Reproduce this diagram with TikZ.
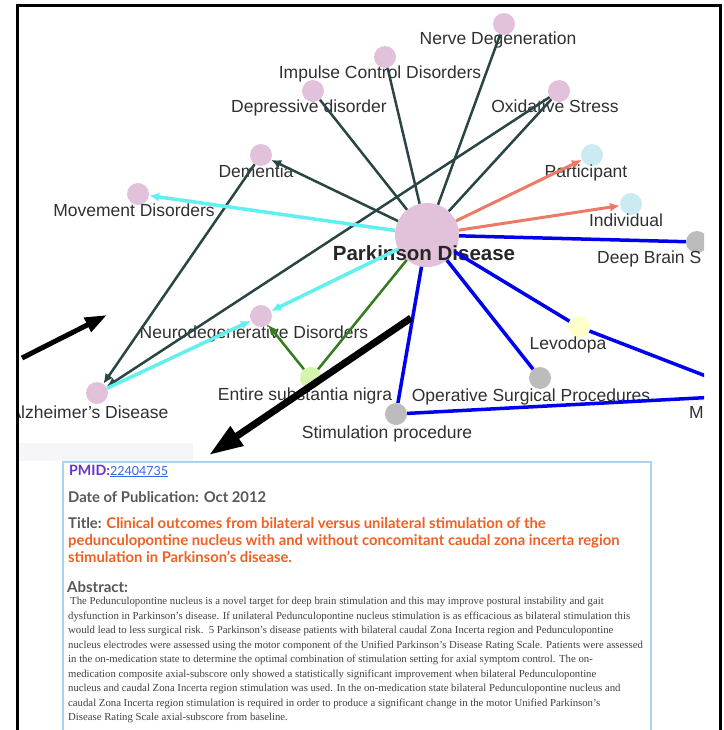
\documentclass[tikz,border=0pt]{standalone}
\usepackage{fontspec}
\setmainfont{Liberation Serif}
\setsansfont{Liberation Sans}
\newfontfamily\headfont{Lato}
\usepackage{xcolor}
\usepackage{tikz}
\usetikzlibrary{arrows.meta,positioning,calc}

\definecolor{nodepink}{RGB}{226,194,218}
\definecolor{nodeblue}{RGB}{204,234,242}
\definecolor{nodegray}{RGB}{188,188,188}
\definecolor{nodeyellow}{RGB}{255,255,204}
\definecolor{nodegreen}{RGB}{214,244,172}
\definecolor{edgedark}{RGB}{42,70,68}
\definecolor{edgecyan}{RGB}{96,240,240}
\definecolor{edgesalmon}{RGB}{236,122,102}
\definecolor{edgegreen}{RGB}{52,124,30}
\definecolor{edgeblue}{RGB}{0,0,236}
\definecolor{labelgray}{RGB}{48,48,48}
\definecolor{pmidpurple}{RGB}{104,52,204}
\definecolor{linkblue}{RGB}{52,104,222}
\definecolor{headgray}{RGB}{88,88,88}
\definecolor{titleorange}{RGB}{240,96,36}
\definecolor{abstractgray}{RGB}{66,66,66}
\definecolor{boxblue}{RGB}{172,210,240}
\definecolor{stripgray}{RGB}{246,246,250}

\begin{document}
\begin{tikzpicture}[
x=1pt,y=-1pt,
concept/.style={circle,minimum size=22pt,inner sep=0pt,fill=nodepink},
disease/.style={concept,minimum size=64pt},
lbl/.style={anchor=base,inner sep=0pt,text=labelgray,font=\sffamily\fontsize{17.5}{20}\selectfont},
dark/.style={draw=edgedark,line width=2.5pt},
cyanline/.style={draw=edgecyan,line width=3.5pt},
salmon/.style={draw=edgesalmon,line width=3pt},
greenline/.style={draw=edgegreen,line width=2.5pt},
blueline/.style={draw=edgeblue,line width=3.5pt},
tip/.style={-{Latex[length=10pt,width=9pt]}},
bigarrow/.style={-{Triangle[length=22pt,width=15pt]},line width=5pt},
head/.style={anchor=base west,inner sep=0pt,font=\headfont\bfseries\fontsize{14.8}{17}\selectfont},
]
\useasboundingbox (0,0) rectangle (723,730);
\fill[stripgray] (19,443) rectangle (193,461);
\begin{scope}
\clip (19,7) rectangle (704,461);
\node[disease] (pd) at (427,235) {};
\node[concept] (nerve) at (504,24) {};
\node[concept] (impulse) at (385,57) {};
\node[concept] (depress) at (313,91) {};
\node[concept] (oxid) at (559,91) {};
\node[concept] (dementia) at (261,155) {};
\node[concept,fill=nodeblue] (particip) at (592,155) {};
\node[concept] (movement) at (138,194) {};
\node[concept,fill=nodeblue] (indiv) at (631,204) {};
\node[concept,fill=nodegray] (dbs) at (697,242) {};
\node[concept] (neuro) at (261,316) {};
\node[concept,fill=nodeyellow] (levo) at (579,327) {};
\node[concept] (alz) at (97,393) {};
\node[concept,fill=nodegreen] (entire) at (311,378) {};
\node[concept,fill=nodegray] (operat) at (540,378) {};
\node[concept,fill=nodegray] (stim) at (396,414) {};
\node[concept,fill=nodegray] (motor) at (755,395) {};
\node[lbl,font=\sffamily\bfseries\fontsize{20.5}{24}\selectfont,text=black!85] (pdtxt) at ($(pd)+(-3,25)$) {Parkinson Disease};
\node[lbl] (nervetxt) at ($(nerve)+(-6,21)$) {Nerve Degeneration};
\node[lbl] (impulsetxt) at ($(impulse)+(-5,22)$) {Impulse Control Disorders};
\node[lbl] (depresstxt) at ($(depress)+(-4,22)$) {Depressive disorder};
\node[lbl] (oxidtxt) at ($(oxid)+(-4,22)$) {Oxidative Stress};
\node[lbl] (dementiatxt) at ($(dementia)+(-5,23)$) {Dementia};
\node[lbl] (participtxt) at ($(particip)+(-6,23)$) {Participant};
\node[lbl] (movementtxt) at ($(movement)+(-4,22)$) {Movement Disorders};
\node[lbl] (indivtxt) at ($(indiv)+(-5,22)$) {Individual};
\node[lbl,anchor=base west] (dbstxt) at ($(dbs)+(-100,21)$) {Deep Brain S};
\node[lbl] (neurotxt) at ($(neuro)+(-7,22)$) {Neurodegenerative Disorders};
\node[lbl] (levotxt) at ($(levo)+(-11,22)$) {Levodopa};
\node[lbl] (alztxt) at ($(alz)+(-8,25)$) {Alzheimer's Disease};
\node[lbl] (entiretxt) at ($(entire)+(-6,22)$) {Entire substantia nigra};
\node[lbl] (operattxt) at ($(operat)+(-9,23)$) {Operative Surgical Procedures};
\node[lbl] (stimtxt) at ($(stim)+(-9,24)$) {Stimulation procedure};
\node[lbl,anchor=base west] (motortxt) at ($(motor)+(-66,23)$) {M};
\draw[dark] (pd) -- (nerve);
\draw[dark] (pd) -- (impulse);
\draw[dark] (pd) -- (depress);
\draw[dark] (pd) -- (oxid);
\draw[dark,tip] (pd) -- (dementia);
\draw[dark,tip] (oxid) -- (alz);
\draw[dark,tip] (dementia) -- (alz);
\draw[cyanline,tip] (pd) -- (movement);
\draw[cyanline,tip] (pd) -- (neuro);
\draw[cyanline,tip] (alz) -- (neuro);
\draw[salmon,tip] (pd) -- (particip);
\draw[salmon,tip] (pd) -- (indiv);
\draw[greenline] (pd) -- (entire);
\draw[greenline,tip] (entire) -- (neuro);
\draw[blueline] (pd) -- (dbs);
\draw[blueline] (pd) -- (levo);
\draw[blueline] (levo) -- (motor);
\draw[blueline] (pd) -- (operat);
\draw[blueline] (pd) -- (stim);
\draw[blueline] (stim) -- (motor);
\end{scope}
\coordinate (leftfrom) at (22,358);
\coordinate (leftto) at (107,315);
\coordinate (downfrom) at (411,318);
\coordinate (downto) at (209,455);
\draw[bigarrow] (leftfrom) -- (leftto);
\draw[bigarrow,line width=7pt,-{Triangle[length=34pt,width=22pt]}] (downfrom) -- (downto);
\draw[boxblue,fill=white,line width=1.5pt] (63,462) rectangle (651,745);
\node[head,text=pmidpurple,font=\headfont\bfseries\fontsize{14.2}{16}\selectfont] (pmid) at (69,475) {PMID:\textcolor{linkblue}{\mdseries\fontsize{12.5}{14}\selectfont\underline{22404735}}};
\node[head,text=headgray] (pubdate) at (68,502) {Date of Publication: Oct 2012};
\node[head,anchor=north west,align=left,text=titleorange] (title) at (68,517) {\textcolor{headgray}{Title:} Clinical outcomes from bilateral versus unilateral stimulation of the\\pedunculopontine nucleus with and without concomitant caudal zona incerta region\\stimulation in Parkinson’s disease.};
\node[head,text=headgray,font=\headfont\bfseries\fontsize{15}{17}\selectfont] (abstracthead) at (67,592) {Abstract:};
\node[anchor=north west,align=left,inner sep=0pt,text=abstractgray,font=\fontsize{10.75}{14.5}\selectfont] (abstract) at (68,597) {\hspace{2pt}The Pedunculopontine nucleus is a novel target for deep brain stimulation and this may improve postural instability and gait\\dysfunction in Parkinson’s disease. If unilateral Pedunculopontine nucleus stimulation is as efficacious as bilateral stimulation this\\would lead to less surgical risk.~~5 Parkinson’s disease patients with bilateral caudal Zona Incerta region and Pedunculopontine\\nucleus electrodes were assessed using the motor component of the Unified Parkinson’s Disease Rating Scale. Patients were assessed\\in the on-medication state to determine the optimal combination of stimulation setting for axial symptom control. The on-\\medication composite axial-subscore only showed a statistically significant improvement when bilateral Pedunculopontine\\nucleus and caudal Zona Incerta region stimulation was used. In the on-medication state bilateral Pedunculopontine nucleus and\\caudal Zona Incerta region stimulation is required in order to produce a significant change in the motor Unified Parkinson’s\\Disease Rating Scale axial-subscore from baseline.};
\draw[line width=3pt] (17.5,745) -- (17.5,5.5) -- (720.5,5.5) -- (720.5,745);
\end{tikzpicture}
\end{document}
